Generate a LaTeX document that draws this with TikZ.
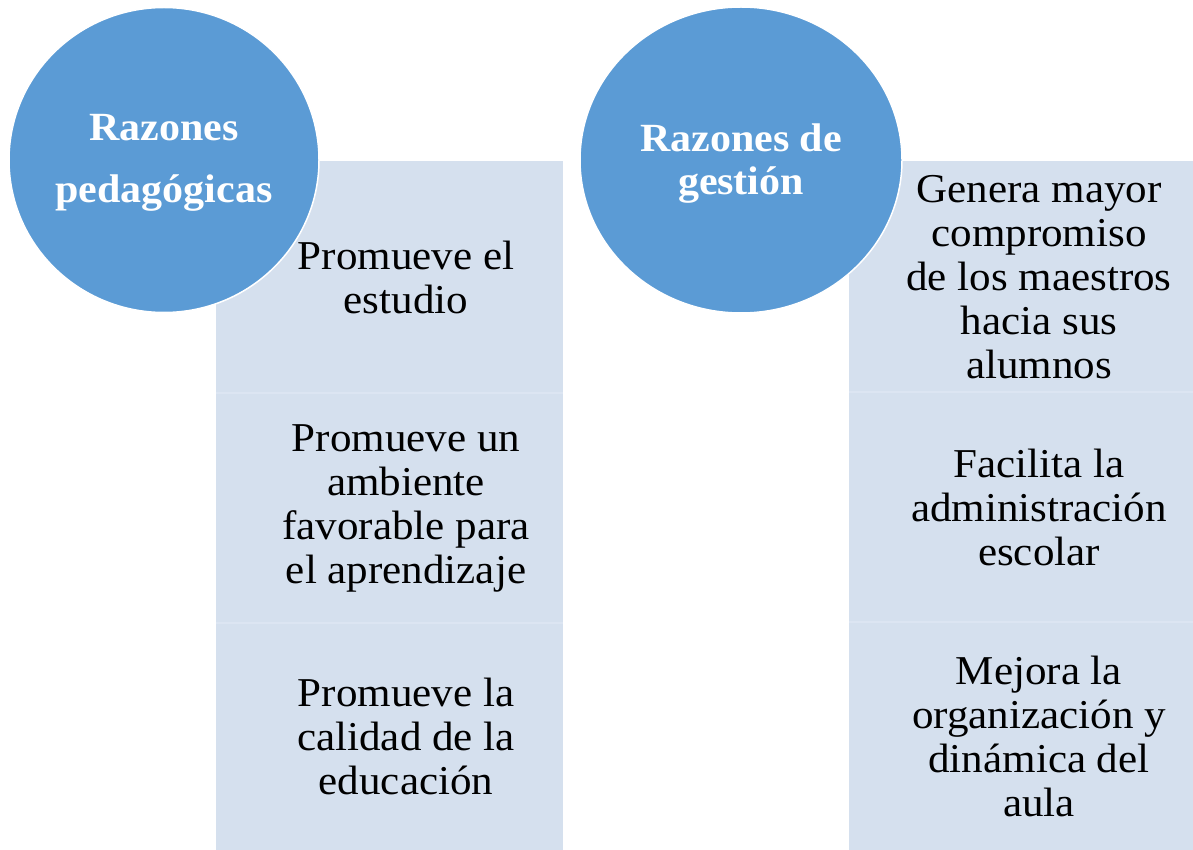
\documentclass[tikz,border=0pt]{standalone}
\usepackage{fontspec}
\setmainfont{Liberation Serif}[FakeStretch=1.05]
\usetikzlibrary{shapes.geometric}
\definecolor{circblue}{HTML}{5B9BD5}
\definecolor{boxfill}{HTML}{D5E0EE}
\definecolor{sepline}{HTML}{DCE5F2}
\tikzset{
  circ/.style={ellipse, fill=circblue, draw=white, line width=1.5pt, inner sep=0pt},
  circtext/.style={text=white, align=center, inner sep=0pt, font=\fontsize{40}{43}\selectfont\bfseries},
  panel/.style={fill=boxfill, draw=none},
  sep/.style={draw=sepline, line width=1.5pt},
  itemtext/.style={align=center, font=\fontsize{41}{44}\selectfont, text=black, inner sep=0pt}
}
\begin{document}
\begin{tikzpicture}[x=1pt,y=-1pt]
\useasboundingbox (0,0) rectangle (1193,850);
\fill[white] (0,0) rectangle (1193,850);
% panels
\path[panel] (216,161) rectangle (563,850);
\path[panel] (849,161) rectangle (1193,850);
\coordinate (l1a) at (216,393); \coordinate (l1b) at (563,393);
\coordinate (l2a) at (216,623); \coordinate (l2b) at (563,623);
\coordinate (r1a) at (849,392); \coordinate (r1b) at (1193,392);
\coordinate (r2a) at (849,622); \coordinate (r2b) at (1193,622);
\draw[sep] (l1a) -- (l1b);
\draw[sep] (l2a) -- (l2b);
\draw[sep] (r1a) -- (r1b);
\draw[sep] (r2a) -- (r2b);
% item texts
\node[itemtext] (p1) at (406,277) {Promueve el\\estudio};
\node[itemtext] (p2) at (406,508) {Promueve un\\ambiente\\favorable para\\el aprendizaje};
\node[itemtext] (p3) at (406,736) {Promueve la\\calidad de la\\educación};
\node[itemtext] (g1) at (1039,277) {Genera mayor\\compromiso\\de los maestros\\hacia sus\\alumnos};
\node[itemtext] (g2) at (1039,507) {Facilita la\\administración\\escolar};
\node[itemtext] (g3) at (1039,736) {Mejora la\\organización y\\dinámica del\\aula};
% circles
\node[circ, minimum width=310pt, minimum height=305pt] (c1) at (164,160) {};
\node[circ, minimum width=322pt, minimum height=306pt] (c2) at (741,160) {};
\node[circtext] (c1t) at (164,163) {Razones\\[19pt]pedagógicas};
\node[circtext] (c2t) at (741,164) {Razones de\\gestión};
\end{tikzpicture}
\end{document}
